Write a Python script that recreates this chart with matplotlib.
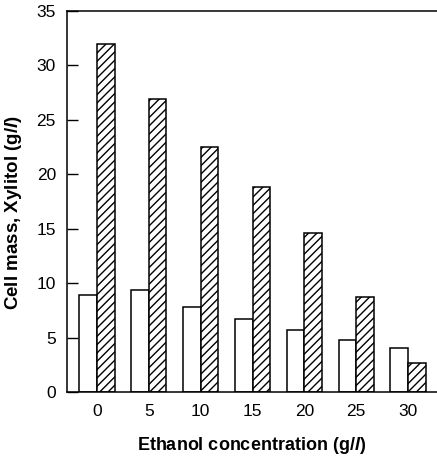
import numpy as np
from matplotlib import pyplot as plt

plt.rcParams["font.family"] = "Liberation Sans"
plt.rcParams["mathtext.fontset"] = "custom"
plt.rcParams["mathtext.it"] = "Liberation Sans:italic:bold"
plt.rcParams["hatch.linewidth"] = 1.0

ethanol = ["0", "5", "10", "15", "20", "25", "30"]
cell_mass = [8.9, 9.4, 7.8, 6.7, 5.7, 4.75, 4.0]
xylitol = [32.0, 26.9, 22.5, 18.8, 14.6, 8.75, 2.7]

x = np.arange(len(ethanol))
w = 0.34

fig = plt.figure(figsize=(4.37, 4.59), dpi=100)
ax = fig.add_axes([67 / 437, 1 - 392 / 459, 1 - 67 / 437, (392 - 11) / 459])

ax.bar(x - w / 2, cell_mass, w, color="white", edgecolor="black", linewidth=1.1)
ax.bar(x + w / 2, xylitol, w, color="white", edgecolor="black", linewidth=1.1,
       hatch="////")

ax.set_xlim(-0.58, 6.56)
ax.set_ylim(0, 35)
ax.set_yticks(range(0, 36, 5))
ax.set_xticks(x, ethanol)
ax.tick_params(axis="x", length=0, pad=9, labelsize=12.5)
ax.tick_params(axis="y", direction="in", length=8, width=1, labelsize=12.5,
               pad=8)
ax.spines["right"].set_visible(False)
for s in ("left", "top", "bottom"):
    ax.spines[s].set_linewidth(1.1)

ax.set_xlabel("Ethanol concentration (g/$l$)", fontsize=13, fontweight="bold",
              labelpad=11)
ax.set_ylabel("Cell mass, Xylitol (g/$l$)", fontsize=13.5, fontweight="bold")
ax.yaxis.set_label_coords(-0.115, 0.47)

plt.savefig("out.png", dpi=100)
